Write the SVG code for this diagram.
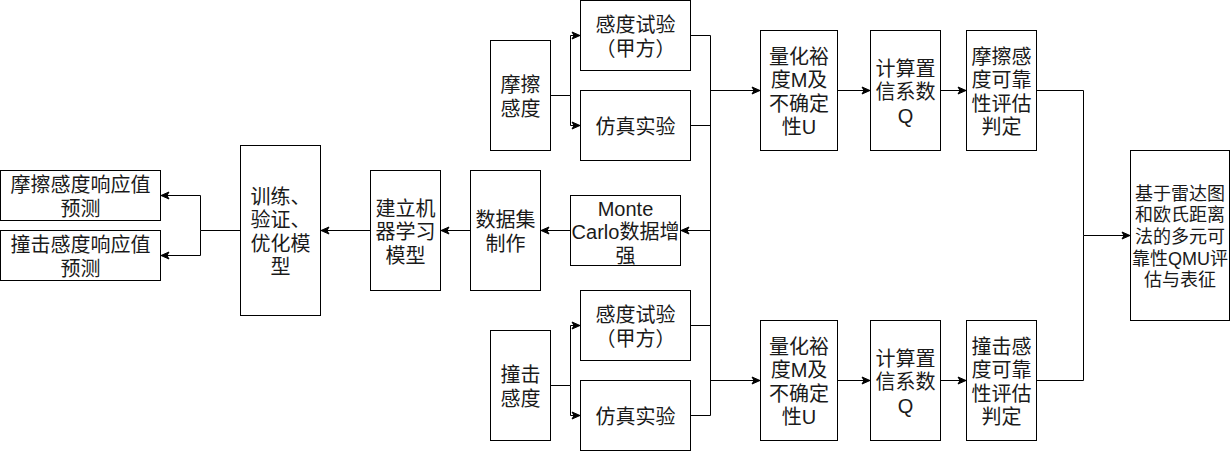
<svg xmlns="http://www.w3.org/2000/svg" width="1231" height="451" viewBox="0 0 1231 451">
<defs>
<marker id="ah" markerUnits="userSpaceOnUse" markerWidth="10" markerHeight="10" refX="9" refY="5" orient="auto">
<path d="M1,1.5 L9,5 L1,8.5 L3,5 z" fill="#000" stroke="#000" stroke-width="1"/>
</marker>
<style>
.b{fill:#fff;stroke:#000;stroke-width:1}
.c{fill:none;stroke:#000;stroke-width:1}
.a{marker-end:url(#ah)}
text{font-family:"Liberation Sans","Noto Sans CJK SC",sans-serif;font-size:20px;fill:#1a1a1a;text-anchor:middle;dominant-baseline:central}
.s{font-size:18px}
</style>
</defs>
<rect width="1231" height="451" fill="#fff"/>
<g id="connectors">
<path class="c a" d="M550.5,95.5 H570.5 V35.5 H580"/>
<path class="c a" d="M550.5,95.5 H570.5 V125.5 H580"/>
<path class="c a" d="M550.5,385.5 H570.5 V325.5 H580"/>
<path class="c a" d="M550.5,385.5 H570.5 V415.5 H580"/>
<path class="c" d="M690.5,35.5 H710.5 V415.5 H690.5"/>
<path class="c" d="M690.5,125.5 H710.5"/>
<path class="c" d="M690.5,325.5 H710.5"/>
<path class="c a" d="M710.5,90.5 H760"/>
<path class="c a" d="M710.5,380.5 H760"/>
<path class="c a" d="M710.5,230.5 H681"/>
<path class="c a" d="M570.5,230.5 H541"/>
<path class="c a" d="M470.5,230.5 H441"/>
<path class="c a" d="M370.5,230.5 H321"/>
<path class="c a" d="M240.5,230.5 H200.5 V195.5 H161"/>
<path class="c a" d="M200.5,230.5 V255.5 H161"/>
<path class="c a" d="M837.5,90.5 H870"/>
<path class="c a" d="M940.5,90.5 H966"/>
<path class="c a" d="M837.5,380.5 H870"/>
<path class="c a" d="M940.5,380.5 H966"/>
<path class="c a" d="M1036.5,90.5 H1083.5 V235.5 H1130"/>
<path class="c" d="M1036.5,380.5 H1083.5 V235.5"/>
</g>
<g id="n_mocha">
<rect class="b" x="490.5" y="40.5" width="60" height="110"/>
<text x="520.5" y="97"><tspan x="520.5" dy="-11.75">摩擦</tspan><tspan x="520.5" dy="23.5">感度</tspan></text>
</g>
<g id="n_test1">
<rect class="b" x="580.5" y="0.5" width="110" height="70"/>
<text x="635.5" y="37"><tspan x="635.5" dy="-11.75">感度试验</tspan><tspan x="635.5" dy="23.5">（甲方）</tspan></text>
</g>
<g id="n_sim1">
<rect class="b" x="580.5" y="90.5" width="110" height="70"/>
<text x="635.5" y="127">仿真实验</text>
</g>
<g id="n_zhuangji">
<rect class="b" x="490.5" y="330.5" width="60" height="110"/>
<text x="520.5" y="387"><tspan x="520.5" dy="-11.75">撞击</tspan><tspan x="520.5" dy="23.5">感度</tspan></text>
</g>
<g id="n_test2">
<rect class="b" x="580.5" y="290.5" width="110" height="70"/>
<text x="635.5" y="327"><tspan x="635.5" dy="-11.75">感度试验</tspan><tspan x="635.5" dy="23.5">（甲方）</tspan></text>
</g>
<g id="n_sim2">
<rect class="b" x="580.5" y="380.5" width="110" height="70"/>
<text x="635.5" y="417">仿真实验</text>
</g>
<g id="n_mc">
<rect class="b" x="570.5" y="195.5" width="110" height="70"/>
<text x="625.5" y="232"><tspan x="625.5" dy="-23.5">Monte</tspan><tspan x="625.5" dy="23.5">Carlo数据增</tspan><tspan x="625.5" dy="23.5">强</tspan></text>
</g>
<g id="n_dataset">
<rect class="b" x="470.5" y="170.5" width="70" height="120"/>
<text x="505.5" y="232"><tspan x="505.5" dy="-11.75">数据集</tspan><tspan x="505.5" dy="23.5">制作</tspan></text>
</g>
<g id="n_build">
<rect class="b" x="370.5" y="170.5" width="70" height="120"/>
<text x="405.5" y="232"><tspan x="405.5" dy="-23.5">建立机</tspan><tspan x="405.5" dy="23.5">器学习</tspan><tspan x="405.5" dy="23.5">模型</tspan></text>
</g>
<g id="n_train">
<rect class="b" x="240.5" y="145.5" width="80" height="170"/>
<text x="280.5" y="232"><tspan x="280.5" dy="-35.25">训练、</tspan><tspan x="280.5" dy="23.5">验证、</tspan><tspan x="280.5" dy="23.5">优化模</tspan><tspan x="280.5" dy="23.5">型</tspan></text>
</g>
<g id="n_pred1">
<rect class="b" x="0.5" y="170.5" width="160" height="50"/>
<text x="80.5" y="197"><tspan x="80.5" dy="-11.75">摩擦感度响应值</tspan><tspan x="80.5" dy="23.5">预测</tspan></text>
</g>
<g id="n_pred2">
<rect class="b" x="0.5" y="230.5" width="160" height="50"/>
<text x="80.5" y="257"><tspan x="80.5" dy="-11.75">撞击感度响应值</tspan><tspan x="80.5" dy="23.5">预测</tspan></text>
</g>
<g id="n_quant1">
<rect class="b" x="760.5" y="30.5" width="77" height="120"/>
<text x="799" y="92"><tspan x="799" dy="-35.25">量化裕</tspan><tspan x="799" dy="23.5">度M及</tspan><tspan x="799" dy="23.5">不确定</tspan><tspan x="799" dy="23.5">性U</tspan></text>
</g>
<g id="n_conf1">
<rect class="b" x="870.5" y="30.5" width="70" height="120"/>
<text x="905.5" y="92"><tspan x="905.5" dy="-23.5">计算置</tspan><tspan x="905.5" dy="23.5">信系数</tspan><tspan x="905.5" dy="23.5">Q</tspan></text>
</g>
<g id="n_eval1">
<rect class="b" x="966.5" y="30.5" width="70" height="120"/>
<text x="1001.5" y="92"><tspan x="1001.5" dy="-35.25">摩擦感</tspan><tspan x="1001.5" dy="23.5">度可靠</tspan><tspan x="1001.5" dy="23.5">性评估</tspan><tspan x="1001.5" dy="23.5">判定</tspan></text>
</g>
<g id="n_quant2">
<rect class="b" x="760.5" y="320.5" width="77" height="120"/>
<text x="799" y="382"><tspan x="799" dy="-35.25">量化裕</tspan><tspan x="799" dy="23.5">度M及</tspan><tspan x="799" dy="23.5">不确定</tspan><tspan x="799" dy="23.5">性U</tspan></text>
</g>
<g id="n_conf2">
<rect class="b" x="870.5" y="320.5" width="70" height="120"/>
<text x="905.5" y="382"><tspan x="905.5" dy="-23.5">计算置</tspan><tspan x="905.5" dy="23.5">信系数</tspan><tspan x="905.5" dy="23.5">Q</tspan></text>
</g>
<g id="n_eval2">
<rect class="b" x="966.5" y="320.5" width="70" height="120"/>
<text x="1001.5" y="382"><tspan x="1001.5" dy="-35.25">撞击感</tspan><tspan x="1001.5" dy="23.5">度可靠</tspan><tspan x="1001.5" dy="23.5">性评估</tspan><tspan x="1001.5" dy="23.5">判定</tspan></text>
</g>
<g id="n_qmu">
<rect class="b" x="1130.5" y="150.5" width="99" height="170"/>
<text class="s" x="1180" y="237"><tspan x="1180" dy="-43.2">基于雷达图</tspan><tspan x="1180" dy="21.6">和欧氏距离</tspan><tspan x="1180" dy="21.6">法的多元可</tspan><tspan x="1180" dy="21.6">靠性QMU评</tspan><tspan x="1180" dy="21.6">估与表征</tspan></text>
</g>
</svg>
